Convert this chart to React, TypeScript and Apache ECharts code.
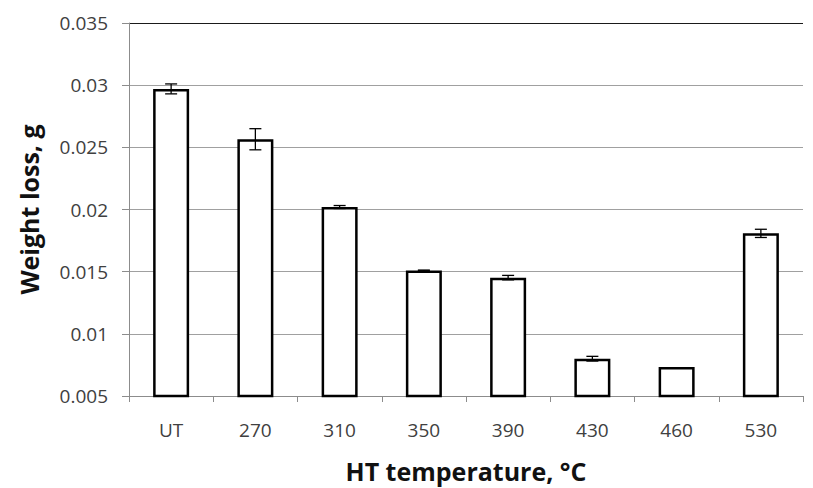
import React, { useEffect, useRef } from "react";
import * as echarts from "echarts";

const categories = ["UT", "270", "310", "350", "390", "430", "460", "530"];
const weightLoss = [0.0297, 0.02565, 0.0202, 0.0151, 0.01452, 0.008, 0.00734, 0.01808];
const errors = [0.0004, 0.00085, 0.00012, 0.00003, 0.00018, 0.00019, 0, 0.00033];
const yTicks = { min: 0.005, max: 0.035, interval: 0.005 };

export default function App() {
  const ref = useRef<HTMLDivElement>(null);
  useEffect(() => {
    if (!ref.current) return;
    const chart = echarts.init(ref.current, undefined, { renderer: "svg" });
    const errData = categories.map((c, i) => [i, weightLoss[i] - errors[i], weightLoss[i] + errors[i], errors[i]]);
    chart.setOption({
      animation: false,
      backgroundColor: "#ffffff",
      grid: { left: 129, right: 10, top: 23, height: 374 },
      xAxis: {
        type: "category",
        data: categories,
        name: "HT temperature, °C",
        nameLocation: "middle",
        nameGap: 62,
        nameTextStyle: { fontFamily: "Open Sans", fontWeight: "bold", fontSize: 25, color: "#111" },
        axisLine: { lineStyle: { color: "#8c8c8c", width: 1 } },
        axisTick: { show: true, alignWithLabel: false, length: 6, lineStyle: { color: "#8c8c8c" } },
        axisLabel: { fontFamily: "Open Sans", fontSize: 19, color: "#404040", margin: 24 },
      },
      yAxis: {
        type: "value",
        min: yTicks.min,
        max: yTicks.max,
        interval: yTicks.interval,
        name: "Weight loss, g",
        nameLocation: "middle",
        nameGap: 88,
        nameTextStyle: { fontFamily: "Open Sans", fontWeight: "bold", fontSize: 25, color: "#111" },
        axisLine: { show: true, lineStyle: { color: "#8c8c8c", width: 1 } },
        axisTick: { show: true, length: 7, lineStyle: { color: "#8c8c8c" } },
        axisLabel: {
          fontFamily: "Open Sans",
          fontSize: 19,
          color: "#404040",
          margin: 21,
          formatter: (v: number) => String(parseFloat(v.toFixed(4))),
        },
        splitLine: {
          show: true,
          lineStyle: {
            color: ["#a0a0a0", "#a0a0a0", "#a0a0a0", "#a0a0a0", "#a0a0a0", "#a0a0a0", "#1a1a1a"],
            width: 1,
          },
        },
      },
      series: [
        {
          type: "bar",
          data: weightLoss,
          barWidth: 36,
          itemStyle: { color: "#ffffff", borderColor: "#000000", borderWidth: 2.5 },
        },
        {
          type: "custom",
          data: errData,
          z: 10,
          renderItem: (params: any, api: any) => {
            if (!api.value(3)) return { type: "group", children: [] };
            const x = api.value(0);
            const lo = api.coord([x, api.value(1)]);
            const hi = api.coord([x, api.value(2)]);
            const cap = 6;
            const style = { stroke: "#000", lineWidth: 1.3 };
            return {
              type: "group",
              children: [
                { type: "line", shape: { x1: hi[0], y1: hi[1], x2: lo[0], y2: lo[1] }, style },
                { type: "line", shape: { x1: hi[0] - cap, y1: hi[1], x2: hi[0] + cap, y2: hi[1] }, style },
                { type: "line", shape: { x1: lo[0] - cap, y1: lo[1], x2: lo[0] + cap, y2: lo[1] }, style },
              ],
            };
          },
        },
      ],
    });
    return () => chart.dispose();
  }, []);
  return <div ref={ref} style={{ width: 813, height: 488, position: "absolute", left: 0, top: 0 }} />;
}
